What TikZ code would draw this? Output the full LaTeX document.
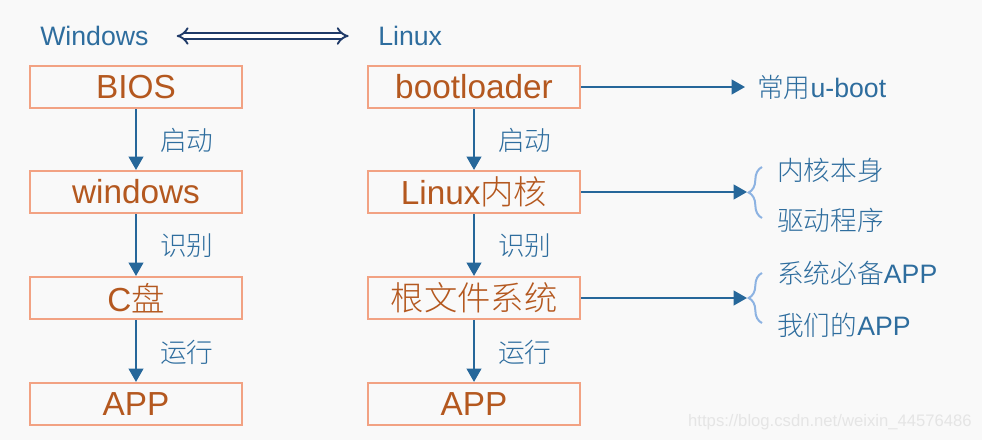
\documentclass[tikz,border=0pt]{standalone}
\usepackage{fontspec}
\setmainfont{Liberation Sans}
\newfontfamily\cjk{Noto Sans CJK SC}[UprightFont=* Light]
\usetikzlibrary{arrows.meta,decorations.pathreplacing}
\definecolor{boxline}{HTML}{F2A283}
\definecolor{boxtext}{HTML}{B4581F}
\definecolor{labelblue}{HTML}{2E6D9E}
\definecolor{arrowblue}{HTML}{26679A}
\definecolor{bracecol}{HTML}{8DB3E2}
\definecolor{navy}{HTML}{1F3A68}
\definecolor{bgcol}{HTML}{F9F9F9}
\tikzset{
  stage/.style={draw=boxline,line width=1.6pt,minimum width=159pt,minimum height=31.5pt,
    inner sep=0pt,text=boxtext,font=\fontsize{25}{27}\selectfont},
  flow/.style={draw=arrowblue,line width=1.5pt,-{Triangle[length=10pt,width=11pt]}},
  lbl/.style={text=labelblue,font=\fontsize{20}{22}\selectfont\cjk,anchor=west,inner sep=0pt},
  note/.style={text=labelblue,font=\fontsize{20}{22}\selectfont,anchor=west,inner sep=0pt},
  grp/.style={draw=bracecol,line width=1.5pt,decorate,decoration={brace,amplitude=10pt}}
}
\begin{document}
\begin{tikzpicture}[x=0.75pt,y=-0.75pt]
  \fill[bgcol] (0,0) rectangle (982,440);
  \useasboundingbox (0,0) rectangle (982,440);
  % headers
  \node[note] (win) at (40,36) {Windows};
  \node[note] (lin) at (378,36) {Linux};
  \draw[navy,double,double distance=3pt,line width=1.4pt,{Implies}-{Implies},
    shorten <=21pt,shorten >=22pt] (win.east) -- (lin.west);
  % windows chain
  \node[stage] (bios) at (136,87) {BIOS};
  \node[stage] (winos) at (136,192) {windows};
  \node[stage] (cdisk) at (136,298) {C{\cjk 盘}};
  \node[stage] (winapp) at (136,404) {APP};
  \draw[flow] (bios) -- (winos);
  \draw[flow] (winos) -- (cdisk);
  \draw[flow] (cdisk) -- (winapp);
  \node[lbl] (winstart) at (160,140) {启动};
  \node[lbl] (winfind) at (160,246) {识别};
  \node[lbl] (winrun) at (160,352) {运行};
  % linux chain
  \node[stage] (boot) at (474,87) {bootloader};
  \node[stage] (kernel) at (474,192) {Linux{\cjk 内核}};
  \node[stage] (rootfs) at (474,298) {{\cjk 根文件系统}};
  \node[stage] (linapp) at (474,404) {APP};
  \draw[flow] (boot) -- (kernel);
  \draw[flow] (kernel) -- (rootfs);
  \draw[flow] (rootfs) -- (linapp);
  \node[lbl] (linstart) at (498,140) {启动};
  \node[lbl] (linfind) at (498,246) {识别};
  \node[lbl] (linrun) at (498,352) {运行};
  % side notes
  \node[note] (uboot) at (757,87) {{\cjk 常用}u-boot};
  \draw[flow] (boot.east) -- ([xshift=-9pt]uboot.west);
  \coordinate (kerneltip) at (747,192);
  \draw[flow] (kernel) -- (kerneltip);
  \draw[grp] (762,218) -- (762,167);
  \node[lbl] (kself) at (777,170) {内核本身};
  \node[lbl] (kdrv) at (777,220) {驱动程序};
  \coordinate (rootfstip) at (747,298);
  \draw[flow] (rootfs) -- (rootfstip);
  \draw[grp] (762,323) -- (762,273);
  \node[lbl] (sysapp) at (777,273) {系统必备\fontspec{Liberation Sans}APP};
  \node[lbl] (ourapp) at (777,325) {我们的\fontspec{Liberation Sans}APP};
  \node[text=black!10,font=\fontsize{12.5}{14}\selectfont,anchor=east,inner sep=0pt]
    (mark) at (972,422) {https://blog.csdn.net/weixin\_44576486};
\end{tikzpicture}
\end{document}
